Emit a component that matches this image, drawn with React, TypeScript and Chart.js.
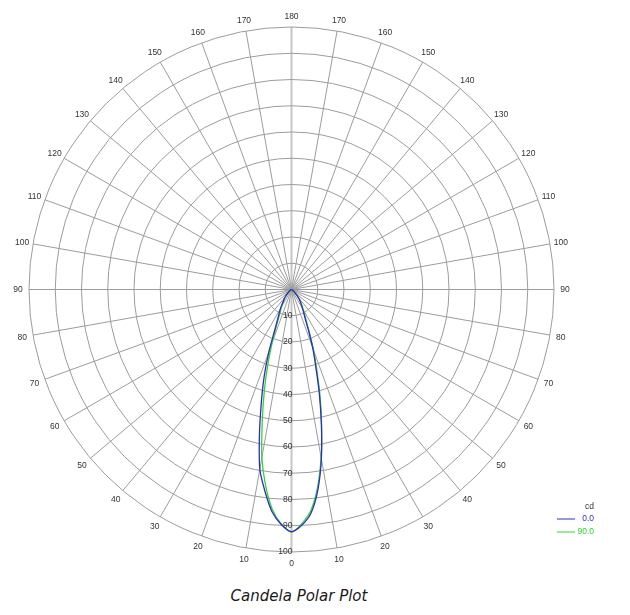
import { useEffect, useRef } from 'react'
import { Chart, LineController, LineElement, PointElement, LinearScale } from 'chart.js'

Chart.register(LineController, LineElement, PointElement, LinearScale)

// gamma angles (deg from nadir) the curve was read at, same for both halves
const GAMMA = [0, 2.5, 5, 7.5, 10, 12.5, 15, 17.5, 20, 22.5, 25, 30, 35, 40, 50, 60, 90]

// C0 / C180 plane (blue) – left half then right half
const C0_LEFT = [92.2, 89.6, 85, 77.5, 69.5, 56.4, 44.3, 34.5, 25, 16.5, 12.5, 8.5, 5.5, 4, 1.5, 0.5, 0]
const C0_RIGHT = [92.2, 89.9, 85.5, 77, 65.5, 52.6, 40.9, 30.7, 23.5, 17, 12.5, 8.5, 6, 4.5, 1.5, 0.5, 0]

// C90 / C270 plane (green)
const C90_LEFT = [92.5, 89.4, 84, 75.5, 65, 51.5, 40, 30, 21.5, 15, 11, 7.5, 5, 3.5, 1.3, 0.4, 0]
const C90_RIGHT = [92.5, 89.3, 84.5, 76, 65, 53, 42, 32, 24.5, 18, 13.5, 9, 6.5, 4.5, 1.5, 0.5, 0]

const SERIES_LABELS = ['0.0', '90.0']
const SERIES_COLORS = ['#2f2fbf', '#33d433']

const RADIAL_TICKS = [10, 20, 30, 40, 50, 60, 70, 80, 90, 100]
const ANGLE_TICKS = [0, 10, 20, 30, 40, 50, 60, 70, 80, 90, 100, 110, 120, 130, 140, 150, 160, 170, 180]
const RADIAL_MAX = 100
const UNIT = 'cd'

const LABEL_FONT = '8.5px "Liberation Sans", Arial, sans-serif'

function toXY(left: number[], right: number[]) {
  const pts: { x: number; y: number }[] = []
  const polar = (deg: number, r: number) => {
    const a = (deg * Math.PI) / 180
    pts.push({ x: r * Math.sin(a), y: -r * Math.cos(a) })
  }
  for (let i = GAMMA.length - 1; i > 0; i--) polar(-GAMMA[i], left[i])
  polar(0, (left[0] + right[0]) / 2)
  for (let i = 1; i < GAMMA.length; i++) polar(GAMMA[i], right[i])
  return pts
}

const polarGrid = {
  id: 'polarGrid',
  beforeDatasetsDraw(chart: any) {
    const { ctx } = chart
    const { x, y } = chart.scales
    const cx = x.getPixelForValue(0)
    const cy = y.getPixelForValue(0)
    const rad = (v: number) => x.getPixelForValue(v) - cx
    const R = rad(RADIAL_MAX)

    ctx.save()
    // vertical 0-180 axis, lighter and wider
    ctx.strokeStyle = '#c6c6c6'
    ctx.lineWidth = 2
    ctx.beginPath()
    ctx.moveTo(cx, cy - R)
    ctx.lineTo(cx, cy + R)
    ctx.stroke()

    ctx.strokeStyle = '#9c9c9c'
    ctx.lineWidth = 1
    ANGLE_TICKS.forEach(a => {
      if (a === 0 || a === 180) return
      const t = (a * Math.PI) / 180
      for (const side of [-1, 1]) {
        ctx.beginPath()
        ctx.moveTo(cx, cy)
        ctx.lineTo(cx + side * Math.sin(t) * R, cy + Math.cos(t) * R)
        ctx.stroke()
      }
    })
    RADIAL_TICKS.forEach(v => {
      ctx.beginPath()
      ctx.arc(cx, cy, rad(v), 0, Math.PI * 2)
      ctx.stroke()
    })

    ctx.fillStyle = '#333'
    ctx.font = LABEL_FONT
    ctx.textAlign = 'center'
    ctx.textBaseline = 'middle'
    ANGLE_TICKS.forEach(a => {
      const t = (a * Math.PI) / 180
      const sides = a === 0 || a === 180 ? [1] : [-1, 1]
      for (const side of sides) {
        ctx.fillText(String(a), cx + side * Math.sin(t) * (R + 11), cy + Math.cos(t) * (R + 11) + 0.5)
      }
    })
    ctx.textAlign = 'right'
    RADIAL_TICKS.forEach(v => ctx.fillText(String(v), cx + 1, cy + rad(v)))
    ctx.restore()
  },
  afterDraw(chart: any) {
    const { ctx } = chart
    ctx.save()
    ctx.font = LABEL_FONT
    ctx.textAlign = 'right'
    ctx.textBaseline = 'middle'
    ctx.fillStyle = '#333'
    ctx.fillText(UNIT, 594, 507)
    chart.data.datasets.forEach((ds: any, i: number) => {
      const yy = 519 + i * 13
      ctx.strokeStyle = ds.borderColor
      ctx.lineWidth = 1
      ctx.beginPath()
      ctx.moveTo(557, yy)
      ctx.lineTo(575, yy)
      ctx.stroke()
      ctx.fillStyle = ds.borderColor
      ctx.fillText(ds.label, 594, yy)
    })
    ctx.restore()
  },
}

export default function App() {
  const canvasRef = useRef<HTMLCanvasElement>(null)
  const chartRef = useRef<Chart | null>(null)

  useEffect(() => {
    if (!canvasRef.current) return
    chartRef.current?.destroy()

    const curves = [toXY(C0_LEFT, C0_RIGHT), toXY(C90_LEFT, C90_RIGHT)]

    chartRef.current = new Chart(canvasRef.current, {
      type: 'line',
      data: {
        datasets: curves.map((pts, i) => ({
          label: SERIES_LABELS[i],
          data: pts,
          borderColor: SERIES_COLORS[i],
          backgroundColor: SERIES_COLORS[i],
          borderWidth: 1.3,
          pointRadius: 0,
          fill: false,
          tension: 0.25,
        })),
      },
      options: {
        responsive: true,
        maintainAspectRatio: false,
        animation: false,
        parsing: { xAxisKey: 'x', yAxisKey: 'y' },
        layout: { padding: { left: 29, right: 76, top: 27, bottom: 28 } },
        plugins: { legend: { display: false }, tooltip: { enabled: false } },
        scales: {
          x: { type: 'linear', min: -RADIAL_MAX, max: RADIAL_MAX, display: false },
          y: { type: 'linear', min: -RADIAL_MAX, max: RADIAL_MAX, display: false },
        },
      },
      plugins: [polarGrid],
    })

    return () => chartRef.current?.destroy()
  }, [])

  return (
    <div style={{ position: 'absolute', left: 0, top: 0, width: 630, height: 615, background: '#fff' }}>
      <div style={{ position: 'absolute', left: 0, top: 0, width: 630, height: 580 }}>
        <canvas ref={canvasRef} />
      </div>
      <div
        style={{
          position: 'absolute',
          left: 0,
          top: 587,
          width: 598,
          textAlign: 'center',
          font: 'italic 15px "DejaVu Sans", Verdana, sans-serif',
          color: '#1a1a1a',
        }}
      >
        Candela Polar Plot
      </div>
    </div>
  )
}
